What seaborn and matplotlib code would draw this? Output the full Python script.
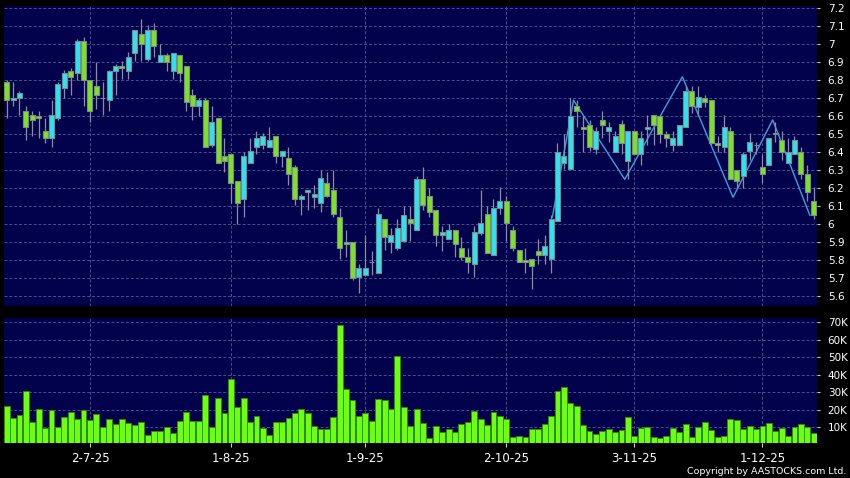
import numpy as np
import pandas as pd
import matplotlib
matplotlib.use("Agg")
import matplotlib.pyplot as plt
import seaborn as sns

# trading days (HK holidays removed)
holidays = ["2025-07-01", "2025-10-01", "2025-10-07", "2025-10-29"]
dates = pd.bdate_range("2025-06-12", "2025-12-11").drop(pd.to_datetime(holidays))

opens = [6.79, 6.69, 6.70, 6.63, 6.61, 6.60, 6.52, 6.48, 6.59, 6.76,
         6.85, 6.84, 7.02, 6.80, 6.77, 6.70, 6.69, 6.85, 6.88, 6.85,
         6.95, 7.06, 6.92, 7.08, 6.90, 6.94, 6.85, 6.94, 6.88, 6.72,
         6.66, 6.69, 6.44, 6.59, 6.38, 6.39, 6.24, 6.14, 6.34, 6.43,
         6.44, 6.43, 6.49, 6.38, 6.37, 6.32, 6.14, 6.18, 6.15, 6.12,
         6.23, 6.19, 6.04, 5.89, 5.90, 5.71, 5.72, 5.79, 5.73, 6.03,
         5.90, 5.87, 5.91, 6.03, 5.97, 6.25, 6.16, 6.08, 5.94, 5.92,
         5.97, 5.87, 5.82, 5.78, 5.95, 6.06, 5.83, 6.09, 6.13, 5.97,
         5.86, 5.80, 5.81, 5.85, 5.83, 5.81, 6.02, 6.34, 6.31, 6.66,
         6.54, 6.55, 6.42, 6.58, 6.52, 6.40, 6.56, 6.35, 6.52, 6.39,
         6.53, 6.61, 6.60, 6.50, 6.44, 6.44, 6.54, 6.74, 6.65, 6.70,
         6.69, 6.45, 6.43, 6.52, 6.30, 6.27, 6.41, 6.44, 6.32, 6.33,
         6.51, 6.47, 6.34, 6.39, 6.40, 6.28, 6.13]
highs = [6.80, 6.79, 6.74, 6.66, 6.63, 6.63, 6.59, 6.69, 6.79, 6.86,
         6.87, 7.03, 7.04, 6.80, 6.90, 6.79, 6.86, 6.89, 6.91, 6.96,
         7.08, 7.14, 7.11, 7.12, 7.00, 6.95, 6.95, 6.94, 6.88, 6.75,
         6.70, 6.70, 6.66, 6.59, 6.48, 6.39, 6.24, 6.40, 6.48, 6.52,
         6.51, 6.54, 6.49, 6.41, 6.43, 6.33, 6.17, 6.19, 6.22, 6.30,
         6.29, 6.30, 6.09, 5.97, 5.90, 5.78, 5.94, 5.85, 6.09, 6.03,
         5.98, 6.03, 6.10, 6.10, 6.27, 6.32, 6.20, 6.08, 5.99, 6.00,
         5.97, 5.93, 5.87, 5.99, 6.19, 6.10, 6.14, 6.21, 6.16, 5.99,
         5.86, 5.87, 5.81, 5.92, 5.94, 6.05, 6.45, 6.50, 6.70, 6.69,
         6.60, 6.58, 6.54, 6.63, 6.57, 6.52, 6.58, 6.52, 6.52, 6.52,
         6.61, 6.61, 6.60, 6.52, 6.52, 6.55, 6.77, 6.77, 6.77, 6.72,
         6.69, 6.49, 6.61, 6.54, 6.30, 6.40, 6.51, 6.46, 6.39, 6.48,
         6.57, 6.52, 6.48, 6.49, 6.43, 6.33, 6.21]
lows = [6.59, 6.66, 6.61, 6.47, 6.49, 6.48, 6.45, 6.43, 6.58, 6.70,
        6.72, 6.80, 6.66, 6.57, 6.64, 6.61, 6.63, 6.72, 6.81, 6.81,
        6.91, 6.91, 6.91, 6.93, 6.90, 6.85, 6.81, 6.79, 6.63, 6.58,
        6.60, 6.43, 6.43, 6.34, 6.29, 6.12, 6.00, 6.04, 6.34, 6.39,
        6.42, 6.43, 6.34, 6.32, 6.22, 6.11, 6.05, 6.08, 6.09, 6.07,
        6.15, 6.04, 5.81, 5.82, 5.69, 5.62, 5.72, 5.72, 5.73, 5.86,
        5.84, 5.86, 5.91, 5.91, 5.97, 6.08, 6.04, 5.88, 5.85, 5.92,
        5.82, 5.80, 5.73, 5.71, 5.94, 5.84, 5.83, 6.06, 5.91, 5.85,
        5.79, 5.73, 5.64, 5.78, 5.78, 5.73, 6.02, 6.31, 6.31, 6.54,
        6.40, 6.41, 6.39, 6.48, 6.46, 6.40, 6.39, 6.25, 6.39, 6.33,
        6.44, 6.44, 6.45, 6.43, 6.41, 6.44, 6.54, 6.62, 6.60, 6.65,
        6.44, 6.40, 6.40, 6.25, 6.20, 6.20, 6.36, 6.39, 6.23, 6.33,
        6.46, 6.36, 6.34, 6.39, 6.25, 6.13, 6.03]
closes = [6.69, 6.70, 6.73, 6.54, 6.58, 6.59, 6.48, 6.61, 6.78, 6.84,
          6.82, 7.02, 6.80, 6.63, 6.72, 6.70, 6.85, 6.88, 6.87, 6.93,
          7.08, 7.00, 7.08, 6.99, 6.94, 6.90, 6.95, 6.84, 6.68, 6.66,
          6.69, 6.43, 6.57, 6.34, 6.35, 6.23, 6.12, 6.38, 6.41, 6.48,
          6.49, 6.47, 6.38, 6.41, 6.28, 6.14, 6.16, 6.19, 6.17, 6.26,
          6.16, 6.06, 5.87, 5.90, 5.70, 5.76, 5.76, 5.79, 6.06, 5.93,
          5.94, 5.98, 6.05, 6.01, 6.25, 6.11, 6.07, 5.94, 5.96, 5.97,
          5.89, 5.82, 5.79, 5.96, 6.01, 5.84, 6.09, 6.13, 6.01, 5.87,
          5.79, 5.79, 5.77, 5.83, 5.88, 6.03, 6.40, 6.38, 6.60, 6.63,
          6.53, 6.43, 6.52, 6.55, 6.54, 6.49, 6.45, 6.52, 6.39, 6.48,
          6.54, 6.55, 6.50, 6.48, 6.48, 6.55, 6.74, 6.66, 6.71, 6.68,
          6.45, 6.44, 6.54, 6.25, 6.24, 6.39, 6.46, 6.44, 6.28, 6.48,
          6.50, 6.40, 6.40, 6.47, 6.28, 6.18, 6.05]
volumes_k = [22.0, 15.5, 16.8, 30.7, 13.2, 20.4, 9.6, 19.9, 10.4, 15.9,
             18.7, 15.0, 20.1, 14.4, 17.8, 10.0, 14.8, 11.7, 14.8, 12.3,
             11.3, 13.0, 5.6, 8.1, 8.1, 10.2, 6.6, 13.4, 18.9, 13.4,
             13.4, 28.2, 10.0, 26.5, 18.2, 37.7, 21.4, 26.5, 12.9, 16.3,
             9.8, 5.6, 13.0, 12.9, 15.5, 18.4, 20.6, 18.0, 10.6, 9.2,
             9.2, 15.9, 68.3, 31.7, 25.6, 16.6, 18.0, 13.6, 26.1, 25.4,
             20.4, 50.6, 21.8, 10.6, 20.4, 12.7, 4.1, 10.8, 7.4, 9.2,
             7.2, 11.7, 13.2, 19.5, 14.8, 11.1, 18.6, 16.5, 15.0, 4.3,
             5.1, 4.5, 9.2, 9.2, 11.7, 16.6, 30.9, 32.8, 24.0, 22.2,
             11.1, 8.1, 6.2, 7.9, 9.2, 7.4, 8.5, 15.9, 5.3, 9.4,
             10.2, 4.5, 4.1, 4.9, 9.8, 7.5, 12.1, 4.7, 10.2, 12.9,
             8.3, 4.5, 5.3, 14.6, 14.2, 9.1, 11.0, 9.2, 10.6, 12.3,
             7.9, 9.8, 5.1, 10.4, 11.7, 10.0, 6.8]

# zigzag overlay (candle index, price)
zigzag_idx = [85.2, 88.5, 96.5, 105.5, 113.4, 119.6, 125.4]
zigzag_price = [6.04, 6.69, 6.25, 6.82, 6.15, 6.58, 6.05]

tick_dates = ["2025-07-02", "2025-08-01", "2025-09-01", "2025-10-02", "2025-11-03", "2025-12-01"]
price_ticks = [5.6, 5.7, 5.8, 5.9, 6.0, 6.1, 6.2, 6.3, 6.4, 6.5, 6.6, 6.7, 6.8, 6.9, 7.0, 7.1, 7.2]
volume_ticks = [10000, 20000, 30000, 40000, 50000, 60000, 70000]

df = pd.DataFrame({"date": dates, "open": opens, "high": highs, "low": lows,
                   "close": closes, "volume": np.array(volumes_k) * 1000})
df["idx"] = np.arange(len(df))

NAVY = "#02024c"
GRID = "#4c4c8e"
UP = "#2ce4f0"
DOWN = "#7ce41e"
VOL = "#6cff12"

fig = plt.figure(figsize=(8.5, 4.78), dpi=100, facecolor="black")
ax = fig.add_axes([0.0047, 0.3598, 0.9568, 0.6276], facecolor=NAVY)
axv = fig.add_axes([0.0047, 0.0726, 0.9568, 0.2615], facecolor=NAVY)

# candles
up = df["close"] >= df["open"]
colors = np.where(up, UP, DOWN)
ax.vlines(df["idx"], df["low"], df["high"], color="#8c8c9c", lw=0.9, zorder=3)
ax.bar(df["idx"], (df["close"] - df["open"]).abs(), bottom=df[["open", "close"]].min(axis=1),
       width=0.78, color=colors, edgecolor="#7c8c8c", linewidth=0.8, zorder=4)

# zigzag line
sns.lineplot(x=zigzag_idx, y=zigzag_price, sort=False, color="#3aa0e0", lw=1.0, ax=ax, zorder=2)

# volume bars
sns.barplot(data=df, x="idx", y="volume", native_scale=True, color=VOL, saturation=1,
            width=0.92, edgecolor="#2f8a08", linewidth=0.6, ax=axv, zorder=3)

tick_pos = [int(df.index[df["date"] == pd.Timestamp(d)][0]) for d in tick_dates]
tick_lab = [f"{pd.Timestamp(d).day}-{pd.Timestamp(d).month}-{pd.Timestamp(d).year % 100}" for d in tick_dates]

for a in (ax, axv):
    a.set_xlim(-0.42, 126.56)
    a.set_xticks(tick_pos)
    a.grid(True, color=GRID, linestyle=(0, (3, 2)), linewidth=0.7, zorder=0)
    a.set_axisbelow(True)
    for s in a.spines.values():
        s.set_visible(False)
    a.set_xlabel("")
    a.set_ylabel("")
    a.yaxis.tick_right()
    a.tick_params(axis="y", colors="#d0d0d0", labelcolor="white", labelsize=7.5,
                  length=2.5, width=0.8, pad=5)

ax.set_ylim(5.546, 7.213)
ax.set_yticks(price_ticks)
ax.set_yticklabels([f"{v:g}" for v in price_ticks])
ax.tick_params(axis="x", length=0, labelbottom=False)

axv.set_ylim(900, 72140)
axv.set_yticks(volume_ticks)
axv.set_yticklabels([f"{v // 1000}K" for v in volume_ticks])
axv.set_xticklabels(tick_lab)
axv.tick_params(axis="x", colors="#d0d0d0", labelcolor="white", labelsize=8.5,
                length=3, width=0.8, pad=3)

fig.text(0.9953, 0.0132, "Copyright by AASTOCKS.com Ltd.", ha="right", va="center",
         color="white", fontsize=6.8)

fig.savefig("out.png", dpi=100, facecolor="black")
